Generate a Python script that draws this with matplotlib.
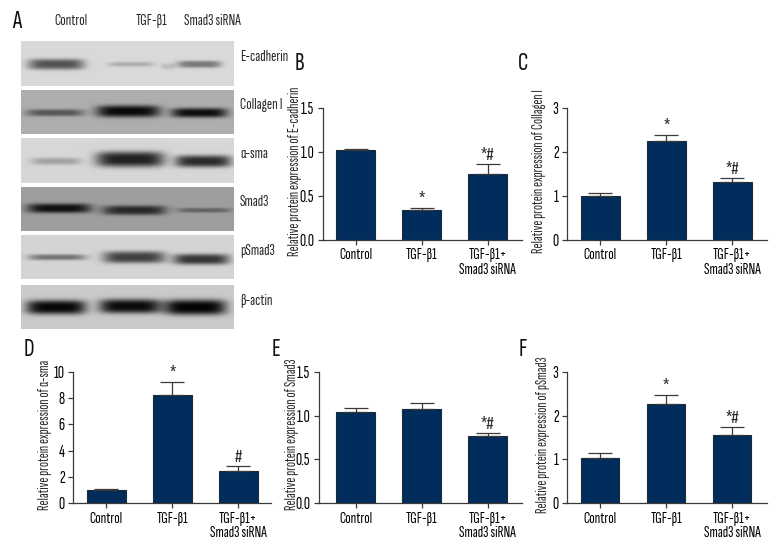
import numpy as np
import matplotlib
matplotlib.use('Agg')
import matplotlib.pyplot as plt

plt.rcParams['font.family'] = ['Sofia Sans Extra Condensed', 'Pathway Gothic One', 'Fira Sans Extra Condensed', 'Liberation Sans', 'DejaVu Sans']
plt.rcParams['text.color'] = '#2a2a2a'

W, H = 780, 552

# Bar values
groups = ['Control', 'TGF-β1', 'TGF-β1+\nSmad3 siRNA']
ecad = [1.02, 0.34, 0.75]
ecad_top = [1.04, 0.37, 0.86]
coll = [1.01, 2.25, 1.32]
coll_top = [1.08, 2.40, 1.42]
asma = [1.00, 8.25, 2.43]
asma_top = [1.05, 9.20, 2.85]
smad = [1.04, 1.08, 0.77]
smad_top = [1.09, 1.14, 0.80]
psmad = [1.04, 2.27, 1.56]
psmad_top = [1.14, 2.48, 1.73]

ecad_marks = ['', '*', '*#']
coll_marks = ['', '*', '*#']
asma_marks = ['', '*', '#']
smad_marks = ['', '', '*#']
psmad_marks = ['', '*', '*#']

# Blot rows: label, background grey, bands (x centre, width, y centre, height, darkness)
blot_labels = ['E-cadherin', 'Collagen I', 'α-sma', 'Smad3', 'pSmad3', 'β-actin']
blot_bg = [0.85, 0.68, 0.84, 0.62, 0.83, 0.79]
blot_rows = [(41, 86), (90, 134), (138, 183), (187, 231), (235, 279), (285, 329)]
blot_bands = [
    [(56, 56, 64, 9, 0.62), (131, 46, 64, 4, 0.20), (199, 44, 64, 6, 0.45), (168, 14, 66, 5, 0.12)],
    [(55, 58, 112.5, 6, 0.50), (128, 64, 111, 10, 0.95), (199, 56, 112.5, 8, 0.92)],
    [(56, 50, 161, 6, 0.24), (130, 68, 159, 13, 0.85), (203, 56, 161, 10, 0.80)],
    [(59, 64, 208, 8, 0.90), (134, 64, 210, 8, 0.75), (204, 54, 210, 4, 0.38)],
    [(57, 58, 257, 5, 0.45), (134, 62, 257, 10, 0.70), (201, 56, 259, 9, 0.75)],
    [(56, 60, 307, 12, 0.97), (130, 62, 306, 12, 0.95), (195, 62, 307, 13, 0.99)],
]
blot_heads = ['Control', 'TGF-β1', 'Smad3 siRNA']


def add_px_axes(x0, y0, x1, y1):
    # axes given in image pixels, y going down
    return fig.add_axes([x0 / W, 1 - y1 / H, (x1 - x0) / W, (y1 - y0) / H])


def px_text(x, y, s, **kw):
    fig.text(x / W, 1 - y / H, s, **kw)


def bar_panel(x0, x1, y0, y1, first, vals, tops, marks, ymax, ticks, fmt, ylabel, lab_x):
    ax = add_px_axes(x0, y0, x1, y1)
    step = 66.0
    ax.set_xlim((x0 - first) / step, (x1 - first) / step)
    ax.set_ylim(0, ymax)
    xs = np.arange(3)
    ax.bar(xs, vals, width=0.585, color='#002d5c', edgecolor='#1c2a3a', linewidth=0.8)
    errs = np.array(tops) - np.array(vals)
    ax.errorbar(xs, vals, yerr=[np.zeros(3), errs], fmt='none', ecolor='#3a3a3a',
                elinewidth=0.9, capsize=8.5, capthick=0.9)
    for x, t, m in zip(xs, tops, marks):
        if m:
            ax.annotate(m, (x, t), xytext=(0, 0.5), textcoords='offset points', ha='center', va='bottom',
                        fontsize=12, family=['Fira Sans Extra Condensed', 'Liberation Sans', 'DejaVu Sans'])
    for s in ['top', 'right']:
        ax.spines[s].set_visible(False)
    for s in ['left', 'bottom']:
        ax.spines[s].set_linewidth(0.9)
        ax.spines[s].set_color('#3a3a3a')
    ax.set_xticks(xs)
    ax.set_xticklabels(groups, fontsize=11.5, linespacing=1.05)
    ax.set_yticks(ticks)
    ax.set_yticklabels([fmt % t for t in ticks], fontsize=12.5)
    ax.tick_params(length=3.5, width=0.9, color='#3a3a3a', pad=2.5)
    ax.patch.set_alpha(0)
    px_text(lab_x, (y0 + y1) / 2 - 3, ylabel, rotation=90, ha='center', va='center', fontsize=10.8)
    return ax


fig = plt.figure(figsize=(W / 100, H / 100), dpi=100, facecolor='white')

# --- Western blot strips ---
for (top, bottom), bg, bands, label in zip(blot_rows, blot_bg, blot_bands, blot_labels):
    ax = add_px_axes(21, top, 234, bottom)
    xx, yy = np.meshgrid(np.arange(21, 234, 0.5), np.arange(top, bottom, 0.5))
    img = np.full(xx.shape, bg)
    for cx, w, cy, h, d in bands:
        prof = np.exp(-(np.abs(xx - cx) / (w / 2)) ** 5) * np.exp(-(np.abs(yy - cy) / (h / 1.7)) ** 3)
        img = img - prof * d * bg
    ax.imshow(img, cmap='gray', vmin=0, vmax=1, aspect='auto', interpolation='bilinear',
              extent=(21, 234, bottom, top))
    ax.axis('off')
    px_text(240, (top + bottom) / 2 - 6.5, label, ha='left', va='center', fontsize=11.5)

for x, head in zip([71, 151, 212], blot_heads):
    px_text(x, 21, head, ha='center', va='center', fontsize=11.5)

# --- Bar panels ---
bar_panel(322.5, 522, 108.3, 240, 355.7, ecad, ecad_top, ecad_marks, 1.5, [0, 0.5, 1.0, 1.5], '%.1f',
          'Relative protein expression of E-cadherin', 295)
bar_panel(567, 767, 108.3, 240, 600.3, coll, coll_top, coll_marks, 3, [0, 1, 2, 3], '%d',
          'Relative protein expression of Collagen I', 539)
bar_panel(73, 271, 371.7, 503.3, 106.3, asma, asma_top, asma_marks, 10, [0, 2, 4, 6, 8, 10], '%d',
          'Relative protein expression of α-sma', 45)
bar_panel(318.5, 522, 371.7, 503.3, 355.7, smad, smad_top, smad_marks, 1.5, [0, 0.5, 1.0, 1.5], '%.1f',
          'Relative protein expression of Smad3', 292)
bar_panel(567, 767, 371.7, 503.3, 600, psmad, psmad_top, psmad_marks, 3, [0, 1, 2, 3], '%d',
          'Relative protein expression of pSmad3', 543)

# --- Panel letters ---
for x, y, letter in [(17, 22, 'A'), (299, 63, 'B'), (523, 63, 'C'), (29, 349, 'D'), (276, 349, 'E'), (523, 349, 'F')]:
    px_text(x, y, letter, ha='center', va='center', fontsize=19, color='#111111')

fig.savefig('out.png', dpi=100)
